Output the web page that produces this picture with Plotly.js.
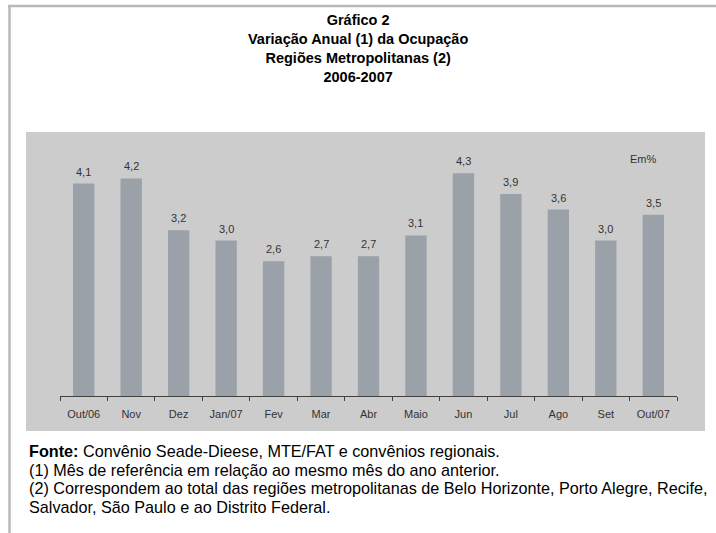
<!DOCTYPE html>
<html>
<head>
<meta charset="utf-8">
<script src="https://cdn.plot.ly/plotly-3.0.1.min.js"></script>
<style>html,body{margin:0;padding:0;background:#fff;}</style>
</head>
<body>
<div id="chart" style="width:716px;height:533px;"></div>
<script>
const months = ["Out/06","Nov","Dez","Jan/07","Fev","Mar","Abr","Maio","Jun","Jul","Ago","Set","Out/07"];
const variation = [4.1,4.2,3.2,3.0,2.6,2.7,2.7,3.1,4.3,3.9,3.6,3.0,3.5];
const titleLines = ["Gráfico 2","Variação Anual (1) da Ocupação","Regiões Metropolitanas (2)","2006-2007"];
const unitLabel = "Em%";
const footerLines = [
  "<b>Fonte:</b> Convênio Seade-Dieese, MTE/FAT e convênios regionais.",
  "(1) Mês de referência em relação ao mesmo mês do ano anterior.",
  "(2) Correspondem ao total das regiões metropolitanas de Belo Horizonte, Porto Alegre, Recife,",
  "Salvador, São Paulo e ao Distrito Federal."
];

const W = 716, H = 533;
const M = {l:60, r:39, t:134, b:137};
const pw = W - M.l - M.r, ph = H - M.t - M.b;
const axisY = H - M.b;
const px = v => (v - M.l) / pw;
const py = v => (axisY - v) / ph;
const FONT = '"Liberation Sans Narrow", "Arial Narrow", "Liberation Sans", Arial, sans-serif';

const trace = {
  type: 'bar',
  x: months,
  y: variation,
  width: 0.45,
  marker: {color: '#9BA1A8', line: {width: 0}},
  hoverinfo: 'skip'
};

const shapes = [
  {type:'rect', xref:'paper', yref:'paper', x0:px(26), x1:px(705), y0:py(431), y1:py(132),
   fillcolor:'#CCCCCC', line:{width:0}, layer:'below'},
  {type:'line', xref:'paper', yref:'paper', x0:px(8), x1:px(716), y0:py(6), y1:py(6),
   line:{color:'#B8B8B8', width:2.5}},
  {type:'line', xref:'paper', yref:'paper', x0:px(9.5), x1:px(9.5), y0:py(5), y1:py(533),
   line:{color:'#B8B8B8', width:2.5}}
];

const annotations = [
  {xref:'paper', yref:'paper', x:px(358), y:py(48.5), text:'<b>' + titleLines.join('<br>') + '</b>',
   showarrow:false, xanchor:'center', yanchor:'middle', align:'center',
   font:{family:FONT, size:14.5, color:'#000000'}},
  {xref:'paper', yref:'paper', x:px(643), y:py(159), text:unitLabel, showarrow:false,
   xanchor:'center', yanchor:'middle', font:{family:FONT, size:11, color:'#333333'}}
];
months.forEach((m,i) => annotations.push({
  xref:'x', yref:'y', x:m, y:variation[i], text:variation[i].toFixed(1).replace('.', ','),
  showarrow:false, xanchor:'center', yanchor:'bottom', yshift:4,
  font:{family:FONT, size:11, color:'#333333'}
}));
const footY = [451, 469.5, 488, 506.5];
footerLines.forEach((t,i) => annotations.push({
  xref:'paper', yref:'paper', x:px(27), y:py(footY[i]), text:t, showarrow:false,
  xanchor:'left', yanchor:'middle', align:'left',
  font:{family:FONT, size:16.2, color:'#000000'}
}));

const layout = {
  width: W, height: H,
  margin: M,
  paper_bgcolor: '#FFFFFF',
  plot_bgcolor: 'rgba(0,0,0,0)',
  separators: ',.',
  showlegend: false,
  xaxis: {
    type: 'category',
    showline: true, linecolor: '#404040', linewidth: 1,
    ticks: 'outside', tickson: 'boundaries', ticklen: 4, tickcolor: '#404040', tickwidth: 1,
    tickfont: {family: FONT, size: 11, color: '#333333'},
    ticklabelstandoff: 8,
    showgrid: false, zeroline: false, fixedrange: true
  },
  yaxis: {
    visible: false, range: [0, ph/51.8], showgrid: false, zeroline: false, fixedrange: true
  },
  shapes: shapes,
  annotations: annotations
};

Plotly.newPlot('chart', [trace], layout, {displayModeBar: false, staticPlot: true});
</script>
</body>
</html>
